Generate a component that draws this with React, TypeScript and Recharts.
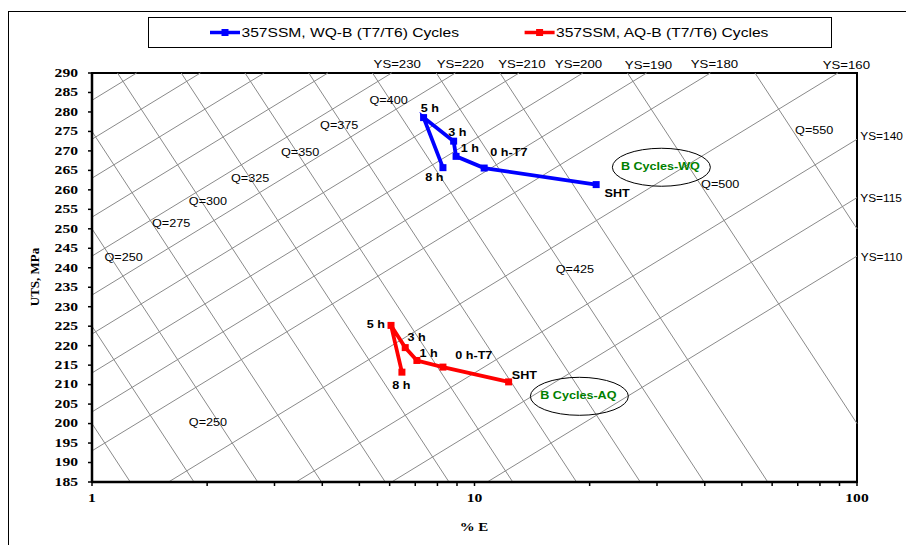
import React from 'react';
import { ComposedChart, Line, XAxis, YAxis, ReferenceLine, ReferenceDot, ReferenceArea } from 'recharts';

// ---- data ----
const stages = ['8 h', '5 h', '3 h', '1 h', '0 h-T7', 'SHT'];
const wqElong = [8.27, 7.36, 8.82, 8.95, 10.6, 20.8];
const wqUTS = [265.7, 278.55, 272.5, 268.6, 265.6, 261.35];
const aqElong = [6.46, 6.05, 6.59, 7.07, 8.27, 12.28];
const aqUTS = [213.2, 225.2, 219.5, 216.2, 214.5, 210.7];
const seriesNames = ['357SSM, WQ-B (T7/T6) Cycles', '357SSM, AQ-B (T7/T6) Cycles'];

// iso-quality lines: UTS = Q - 150 log(E)
const qValues = [200, 225, 250, 275, 300, 325, 350, 375, 400, 425, 450, 500, 550];
// iso-yield lines: UTS = YS + 13 + 60 log(E)
const ysValues = [270, 260, 250, 240, 230, 220, 210, 200, 190, 180, 160, 140, 125, 110];

const yTicks = [185, 190, 195, 200, 205, 210, 215, 220, 225, 230, 235, 240, 245, 250, 255, 260, 265, 270, 275, 280, 285, 290];
const xTicks = [1, 2, 3, 4, 5, 6, 7, 8, 9, 10, 20, 30, 40, 50, 60, 70, 80, 90, 100];
const xLabelTicks = [1, 10, 100];

// text annotations [text, E, UTS]
const qLabels: [string, number, number][] = [
  ['Q=250', 1.21, 242.7], ['Q=275', 1.61, 251.4], ['Q=300', 2.01, 257.1], ['Q=325', 2.59, 263.0],
  ['Q=350', 3.5, 269.6], ['Q=375', 4.43, 276.6], ['Q=400', 5.96, 283.0], ['Q=425', 18.3, 239.6],
  ['Q=500', 43.9, 261.4], ['Q=550', 77.3, 275.3], ['Q=250', 2.01, 200.3],
];
const ysTopLabels: [string, number, number][] = [
  ['YS=230', 6.28, 292.3], ['YS=220', 9.18, 292.3], ['YS=210', 13.3, 292.3], ['YS=200', 18.7, 292.3],
  ['YS=190', 28.5, 292.0], ['YS=180', 42.4, 292.3], ['YS=160', 93.8, 292.0],
];
const ysRightLabels: [string, number, number][] = [
  ['YS=140', 102.0, 273.75], ['YS=115', 102.0, 257.8], ['YS=110', 102.3, 242.7],
];
const wqPointLabels: [string, number, number][] = [
  ['8 h', 7.85, 263.2], ['5 h', 7.64, 280.9], ['3 h', 9.02, 274.8], ['1 h', 9.72, 270.7],
  ['0 h-T7', 12.3, 269.6], ['SHT', 23.6, 259.1],
];
const aqPointLabels: [string, number, number][] = [
  ['8 h', 6.44, 209.8], ['5 h', 5.52, 225.5], ['3 h', 7.06, 222.1], ['1 h', 7.59, 218.0],
  ['0 h-T7', 9.96, 217.5], ['SHT', 13.5, 212.4],
];
const ellipses: [string, number, number][] = [
  ['B Cycles-WQ', 30.8, 265.8],
  ['B Cycles-AQ', 18.8, 207.0],
];

const X_MIN = 1, X_MAX = 100, Y_MIN = 185, Y_MAX = 290;
const LMAX = Math.log10(X_MAX);

function qSegment(q: number) {
  let l0 = (q - Y_MAX) / 150, u0 = Y_MAX;
  if (l0 < 0) { l0 = 0; u0 = q; }
  let l1 = (q - Y_MIN) / 150, u1 = Y_MIN;
  if (l1 > LMAX) { l1 = LMAX; u1 = q - 150 * LMAX; }
  return [{ x: Math.pow(10, l0), y: u0 }, { x: Math.pow(10, l1), y: u1 }];
}
function ysSegment(ys: number) {
  const c = ys + 13;
  let l0 = (Y_MIN - c) / 60, u0 = Y_MIN;
  if (l0 < 0) { l0 = 0; u0 = c; }
  let l1 = (Y_MAX - c) / 60, u1 = Y_MAX;
  if (l1 > LMAX) { l1 = LMAX; u1 = c + 60 * LMAX; }
  return [{ x: Math.pow(10, l0), y: u0 }, { x: Math.pow(10, l1), y: u1 }];
}

const wqData = wqElong.map((e, i) => ({ e, uts: wqUTS[i], stage: stages[i] }));
const aqData = aqElong.map((e, i) => ({ e, uts: aqUTS[i], stage: stages[i] }));

const ARIAL = "'Liberation Sans', Arial, sans-serif";
const TIMES = "'Liberation Serif', 'Times New Roman', serif";
const GRID = '#8a8a8a';

const squareDot = (color: string) => (props: any) => {
  const { cx, cy, index } = props;
  if (cx == null || cy == null) return <g key={index} />;
  return <rect key={index} x={cx - 3.5} y={cy - 3.5} width={7} height={7} fill={color} />;
};

const YTick = (props: any) => {
  const { x, y, payload } = props;
  return (
    <text transform={`translate(${x - 8},${y}) scale(1.3,1)`} textAnchor="end" dominantBaseline="central"
      fontFamily={TIMES} fontWeight="bold" fontSize={12} fill="#000">{payload.value}</text>
  );
};
const XTick = (props: any) => {
  const { x, y, payload } = props;
  if (!xLabelTicks.includes(payload.value)) return <g />;
  return (
    <text transform={`translate(${x},${y + 10}) scale(1.3,1)`} textAnchor="middle" dominantBaseline="central"
      fontFamily={TIMES} fontWeight="bold" fontSize={12} fill="#000">{payload.value}</text>
  );
};

const textShape = (txt: string, opts: { size: number; sx: number; bold?: boolean; anchor?: string; color?: string }) =>
  (p: any) => (
    <text transform={`translate(${p.cx},${p.cy}) scale(${opts.sx},1)`} textAnchor={opts.anchor || 'middle'}
      dominantBaseline="central" fontFamily={ARIAL} fontWeight={opts.bold ? 'bold' : 'normal'}
      fontSize={opts.size} fill={opts.color || '#000'}>{txt}</text>
  );

export default function App() {
  return (
    <div style={{ position: 'absolute', left: 0, top: 0, width: 906, height: 545, background: '#fff' }}>
      <ComposedChart width={906} height={545} margin={{ top: 73, right: 49, bottom: 33, left: 32 }}>
        <XAxis dataKey="e" type="number" scale="log" domain={[X_MIN, X_MAX]} ticks={xTicks} interval={0}
          allowDataOverflow height={30} tickSize={4} tick={<XTick />}
          axisLine={{ stroke: '#000', strokeWidth: 2.5 }} tickLine={{ stroke: '#000', strokeWidth: 1.5 }} />
        <YAxis type="number" domain={[Y_MIN, Y_MAX]} ticks={yTicks} interval={0} allowDataOverflow width={60}
          tickSize={4} tick={<YTick />}
          axisLine={{ stroke: '#000', strokeWidth: 2.5 }} tickLine={{ stroke: '#000', strokeWidth: 1.5 }} />

        {qValues.map((q) => (
          <ReferenceLine key={'q' + q} segment={qSegment(q)} stroke={GRID} strokeWidth={1} ifOverflow="visible" />
        ))}
        {ysValues.map((v) => (
          <ReferenceLine key={'ys' + v} segment={ysSegment(v)} stroke={GRID} strokeWidth={1} ifOverflow="visible" />
        ))}
        <ReferenceArea x1={X_MIN} x2={X_MAX} y1={Y_MIN} y2={Y_MAX} fill="none" fillOpacity={0}
          stroke="#000" strokeWidth={2} ifOverflow="visible" />

        {qLabels.map(([t, e, u], i) => (
          <ReferenceDot key={'ql' + i} x={e} y={u} r={0} ifOverflow="visible" shape={textShape(t, { size: 11.5, sx: 1.1 })} />
        ))}
        {ysTopLabels.map(([t, e, u], i) => (
          <ReferenceDot key={'yt' + i} x={e} y={u} r={0} ifOverflow="visible" shape={textShape(t, { size: 11, sx: 1.2 })} />
        ))}
        {ysRightLabels.map(([t, e, u], i) => (
          <ReferenceDot key={'yr' + i} x={e} y={u} r={0} ifOverflow="visible" shape={textShape(t, { size: 11, sx: 1.08, anchor: 'start' })} />
        ))}
        {ellipses.map(([t, e, u], i) => (
          <ReferenceDot key={'el' + i} x={e} y={u} r={0} ifOverflow="visible"
            shape={(p: any) => (
              <g>
                <ellipse cx={p.cx} cy={p.cy} rx={49} ry={19} fill="none" stroke="#000" strokeWidth={1} />
                <text transform={`translate(${p.cx - 1},${p.cy - 1}) scale(1.2,1)`} textAnchor="middle" dominantBaseline="central"
                  fontFamily={ARIAL} fontWeight="bold" fontSize={10.5} fill="#008000">{t}</text>
              </g>
            )} />
        ))}

        <Line data={wqData} dataKey="uts" name={seriesNames[0]} stroke="#0000FF" strokeWidth={3.8}
          dot={squareDot('#0000FF')} isAnimationActive={false} type="linear" />
        <Line data={aqData} dataKey="uts" name={seriesNames[1]} stroke="#FF0000" strokeWidth={3.8}
          dot={squareDot('#FF0000')} isAnimationActive={false} type="linear" />

        {wqPointLabels.concat(aqPointLabels).map(([t, e, u], i) => (
          <ReferenceDot key={'pl' + i} x={e} y={u} r={0} ifOverflow="visible" shape={textShape(t, { size: 10.5, sx: 1.2, bold: true })} />
        ))}
      </ComposedChart>

      <svg width={906} height={545} style={{ position: 'absolute', left: 0, top: 0, pointerEvents: 'none' }}>
        <rect x={8.5} y={11.5} width={1000} height={1000} fill="none" stroke="#000" strokeWidth={1} />
        <rect x={148.5} y={17.5} width={683} height={30} fill="#fff" stroke="#000" strokeWidth={1} />
        <line x1={210} x2={240} y1={32.5} y2={32.5} stroke="#0000FF" strokeWidth={3.5} />
        <rect x={221.5} y={29} width={7} height={7} fill="#0000FF" />
        <text transform="translate(241.5,32.5) scale(1.25,1)" dominantBaseline="central" fontFamily={ARIAL} fontSize={12.5} fill="#000">{seriesNames[0]}</text>
        <line x1={524.6} x2={554.6} y1={32.5} y2={32.5} stroke="#FF0000" strokeWidth={3.5} />
        <rect x={536.1} y={29} width={7} height={7} fill="#FF0000" />
        <text transform="translate(556,32.5) scale(1.25,1)" dominantBaseline="central" fontFamily={ARIAL} fontSize={12.5} fill="#000">{seriesNames[1]}</text>

        <text transform="translate(34,277) rotate(-90)" textAnchor="middle" dominantBaseline="central"
          fontFamily={TIMES} fontWeight="bold" fontSize={13} fill="#000">UTS, MPa</text>
        <text transform="translate(474,527) scale(1.3,1)" textAnchor="middle" dominantBaseline="central"
          fontFamily={TIMES} fontWeight="bold" fontSize={11.5} fill="#000">% E</text>
      </svg>
    </div>
  );
}
